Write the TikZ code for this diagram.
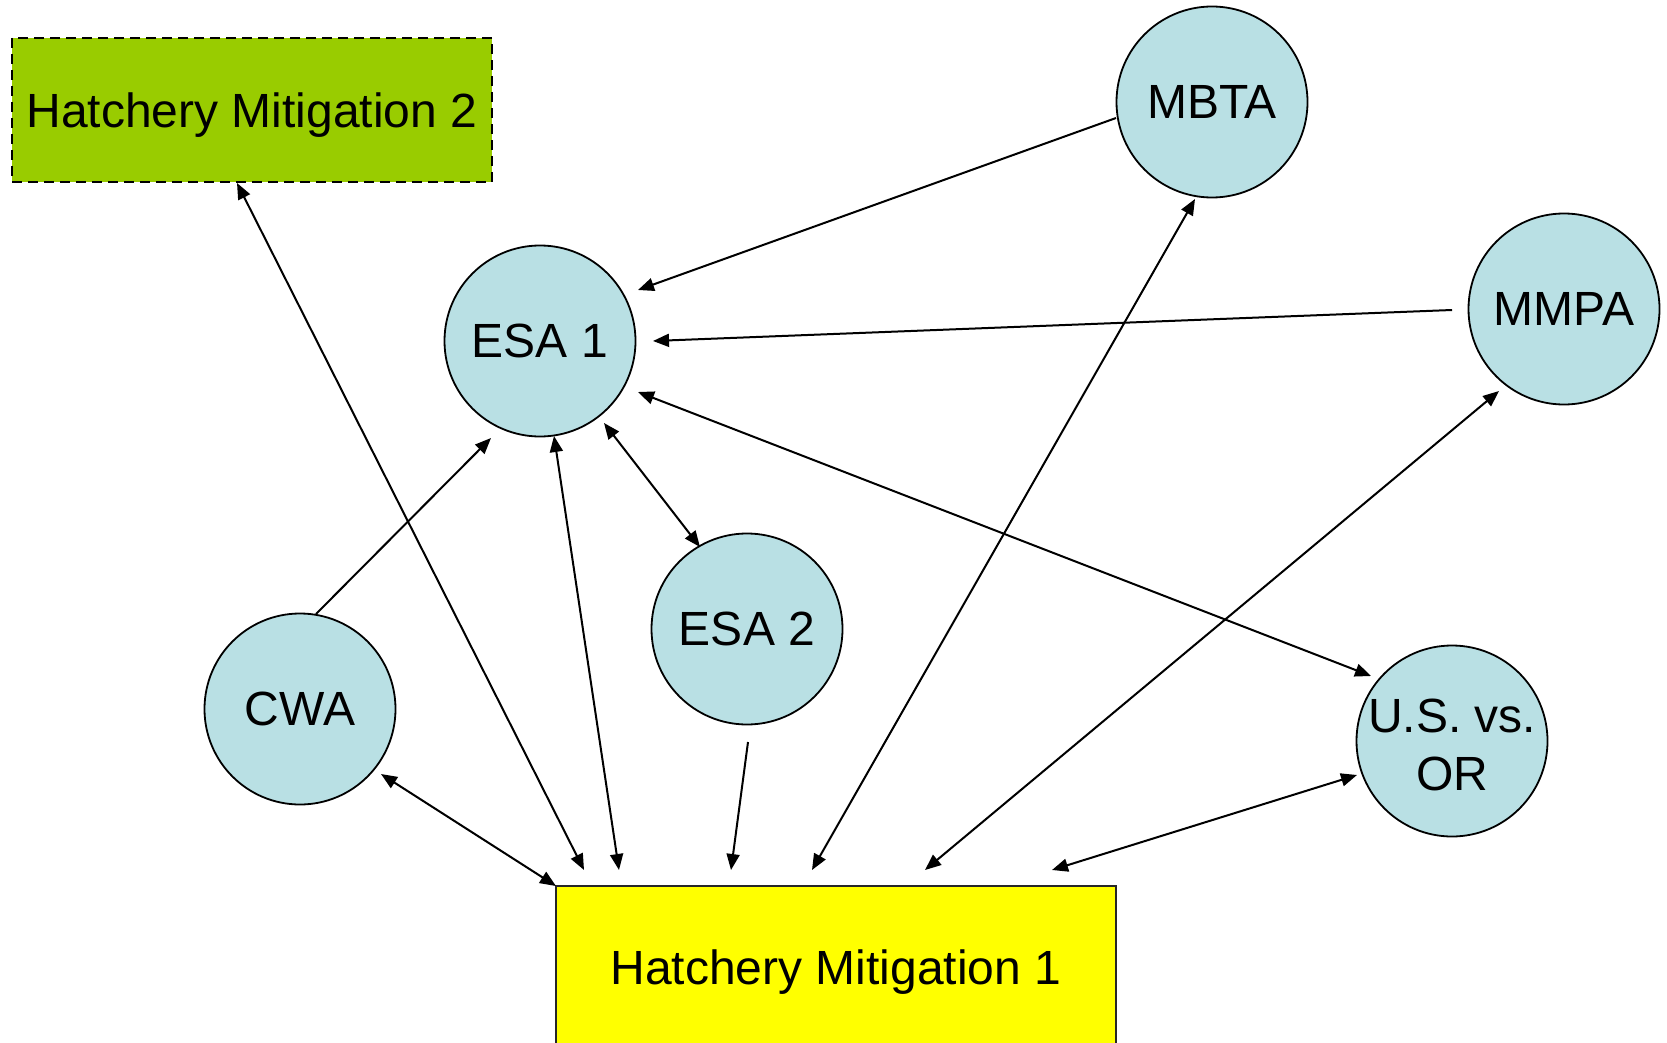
\documentclass[tikz,border=0pt]{standalone}
\usepackage{fontspec}
\setmainfont{Liberation Sans}
\usetikzlibrary{arrows.meta}
\definecolor{circfill}{RGB}{185,224,228}
\definecolor{hmtwo}{RGB}{153,204,0}
\definecolor{hmone}{RGB}{255,255,0}
\begin{document}
\begin{tikzpicture}[x=1pt,y=-1pt,
  circ/.style={circle,draw=black,line width=1.8pt,fill=circfill,minimum size=191pt,inner sep=0pt,align=center,font=\fontsize{48}{58}\selectfont},
  hmbox/.style={rectangle,line width=1.8pt,inner sep=0pt,text depth=0pt,font=\fontsize{48}{58}\selectfont},
  conn/.style={line width=2pt,draw=black},
  tip/.style={-{Triangle[length=16pt,width=13pt]}},
  tips/.style={{Triangle[length=16pt,width=13pt]}-{Triangle[length=16pt,width=13pt]}}]
\useasboundingbox (0,0) rectangle (1667,1043);
\node[hmbox,draw=black,dash pattern=on 10pt off 6pt,fill=hmtwo,minimum width=480pt,minimum height=144pt] (hm2) at (252,110) {Hatchery Mitigation 2};
\node[hmbox,draw=black!85,fill=hmone,minimum width=560pt,minimum height=162pt] (hm1) at (836,967) {Hatchery Mitigation 1};
\node[circ] (mbta) at (1212,102) {MBTA};
\node[circ] (esa1) at (540,341) {ESA 1};
\node[circ] (mmpa) at (1564,309) {MMPA};
\node[circ] (esa2) at (747,629) {ESA 2};
\node[circ] (cwa) at (300,709) {CWA};
\node[circ] (usor) at (1452,741) {\smash{\makebox[0pt]{\raisebox{-49pt}{\begin{tabular}[b]{@{}c@{}}U.S. vs.\\OR\end{tabular}}}}};
% connectors
\draw[conn,tip] ([shift={(-96,16)}]mbta.center) -- ([shift={(98,-51)}]esa1.center);
\draw[conn,tip] ([shift={(-112,1)}]mmpa.center) -- ([shift={(113,0)}]esa1.center);
\draw[conn,tips] ([shift={(98,51)}]esa1.center) -- ([shift={(-81,-65)}]usor.center);
\draw[conn,tips] ([shift={(64,82)}]esa1.center) -- ([shift={(-47,-82)}]esa2.center);
\draw[conn,tip] ([shift={(16,-95)}]cwa.center) -- ([shift={(-49,97)}]esa1.center);
\draw[conn,tips] ([shift={(-217,-97)}]hm1.center) -- ([shift={(14,95)}]esa1.center);
\draw[conn,tips] ([shift={(-15,73)}]hm2.center) -- ([shift={(-252,-97)}]hm1.center);
\draw[conn,tip] ([shift={(1,113)}]esa2.center) -- ([shift={(-105,-97)}]hm1.center);
\draw[conn,tips] ([shift={(-24,-97)}]hm1.center) -- ([shift={(-17,97)}]mbta.center);
\draw[conn,tips] ([shift={(89,-97)}]hm1.center) -- ([shift={(-65,82)}]mmpa.center);
\draw[conn,tips] ([shift={(216,-97)}]hm1.center) -- ([shift={(-95,34)}]usor.center);
\draw[conn,tips] ([shift={(81,65)}]cwa.center) -- ([shift={(-280,-81)}]hm1.center);
\end{tikzpicture}
\end{document}
